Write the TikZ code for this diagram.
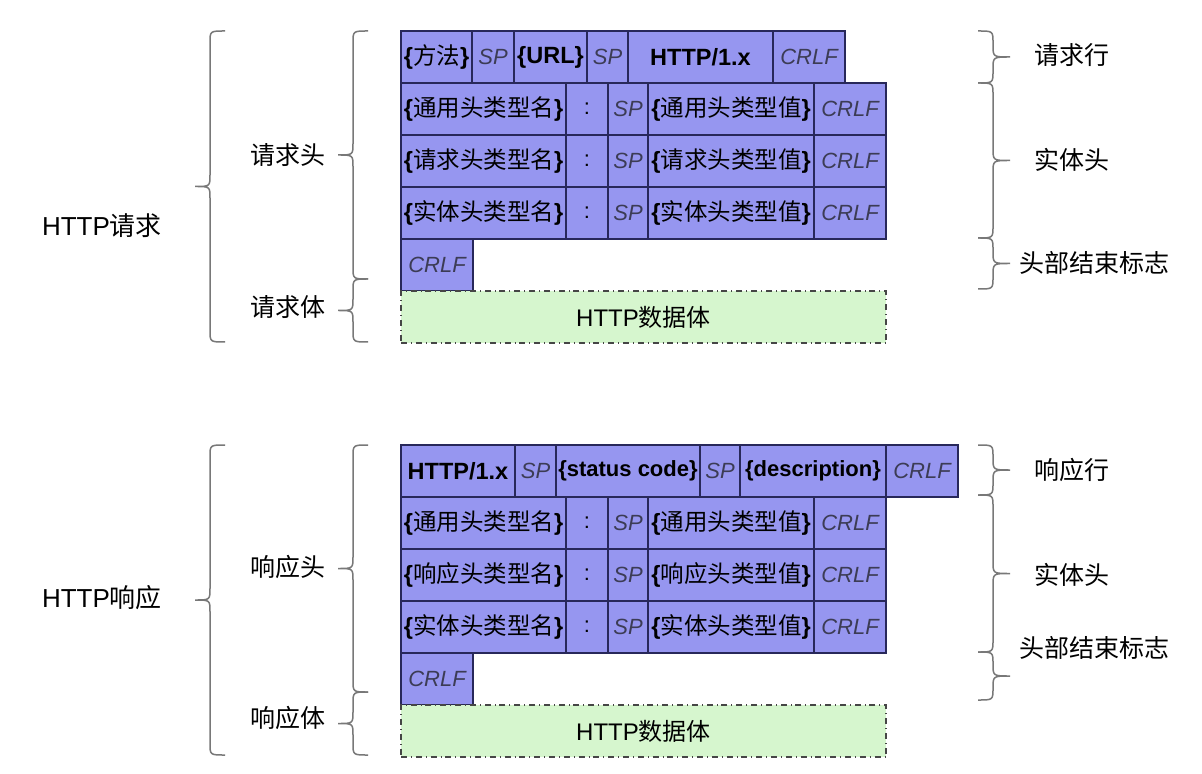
\documentclass[tikz,border=0pt]{standalone}
\usepackage{fontspec}
\setmainfont{Liberation Sans}
\newfontfamily\zhfont{Noto Sans CJK SC}
\newcommand{\zh}[1]{{\zhfont #1}}
\newcommand{\zc}[1]{{\zhfont\fontsize{11.75}{13}\selectfont #1}}
\newcommand{\bb}[1]{{\bfseries\fontsize{11.75}{13}\selectfont #1}}
\usepackage{tikz}
\usetikzlibrary{positioning, calc}

\definecolor{cellfill}{RGB}{150,150,240}
\definecolor{cellline}{RGB}{40,40,90}
\definecolor{spgray}{RGB}{60,60,85}
\definecolor{bodyfill}{RGB}{214,246,206}
\definecolor{bodyline}{RGB}{70,70,70}
\definecolor{bracegray}{RGB}{120,120,120}

\tikzset{
	cell/.style={draw=cellline, fill=cellfill, line width=0.75pt, minimum height=26pt,
		inner sep=0pt, outer sep=0pt, font=\fontsize{11}{13}\selectfont},
	sp/.style={cell, text=spgray, font=\fontsize{11}{13}\selectfont\itshape},
	bodybox/.style={draw=bodyline, fill=bodyfill, dash dot, line width=0.6pt, minimum height=26pt,
		inner sep=0pt, outer sep=0pt, font=\fontsize{12}{14}\selectfont},
	lab/.style={font=\fontsize{12.5}{15}\selectfont},
	bigLab/.style={font=\fontsize{13}{15}\selectfont},
	curlyline/.style={draw=bracegray, line width=0.75pt},
	% left brace, drawn from top to bottom
	curlyl/.style={to path={let \p1=(\tikztostart), \p2=(\tikztotarget),
		\p3=($(\tikztostart)!0.5!(\tikztotarget)$) in
		(\p1) .. controls (\x1-7.5pt,\y1) .. (\x1-7.5pt,\y1-6pt)
		-- (\x1-7.5pt,\y3+6pt) .. controls (\x1-7.5pt,\y3) .. (\x1-15pt,\y3)
		.. controls (\x1-7.5pt,\y3) .. (\x1-7.5pt,\y3-6pt)
		-- (\x1-7.5pt,\y2+6pt) .. controls (\x1-7.5pt,\y2) .. (\p2)}},
	% right brace, drawn from top to bottom
	curlyr/.style={to path={let \p1=(\tikztostart), \p2=(\tikztotarget),
		\p3=($(\tikztostart)!0.5!(\tikztotarget)$) in
		(\p1) .. controls (\x1+7.5pt,\y1) .. (\x1+7.5pt,\y1-6pt)
		-- (\x1+7.5pt,\y3+6pt) .. controls (\x1+7.5pt,\y3) .. (\x1+16pt,\y3)
		.. controls (\x1+7.5pt,\y3) .. (\x1+7.5pt,\y3-6pt)
		-- (\x1+7.5pt,\y2+6pt) .. controls (\x1+7.5pt,\y2) .. (\p2)}}
}

\begin{document}
\begin{tikzpicture}[x=0.5pt, y=-0.5pt]
	\fill[white] (0,0) rectangle (1202,774);
	\useasboundingbox (0,0) rectangle (1202,774);

	% HTTP request
	\node[cell, minimum width=35.5pt, anchor=north west] (q1-a) at (401,31) {\bb{\{}\zc{方法}\bb{\}}};
	\node[sp, minimum width=21pt, right=0pt of q1-a] (q1-b) {SP};
	\node[cell, minimum width=36.5pt, right=0pt of q1-b] (q1-c) {\bb{\{URL\}}};
	\node[sp, minimum width=20.5pt, right=0pt of q1-c] (q1-d) {SP};
	\node[cell, minimum width=72.5pt, right=0pt of q1-d] (q1-e) {\bb{HTTP/1.x}};
	\node[sp, minimum width=36pt, right=0pt of q1-e] (q1-f) {CRLF};

	\foreach \rw/\pv/\kind in {2/1/通用, 3/2/请求, 4/3/实体} {
		\node[cell, minimum width=82.5pt, anchor=north west] (q\rw-a) at (q\pv-a.south west) {\bb{\{}\zc{\kind 头类型名}\bb{\}}};
		\node[cell, minimum width=21pt, right=0pt of q\rw-a] (q\rw-b) {:};
		\node[sp, minimum width=20pt, right=0pt of q\rw-b] (q\rw-c) {SP};
		\node[cell, minimum width=83pt, right=0pt of q\rw-c] (q\rw-d) {\bb{\{}\zc{\kind 头类型值}\bb{\}}};
		\node[sp, minimum width=36pt, right=0pt of q\rw-d] (q\rw-e) {CRLF};
	}
	\node[sp, minimum width=36pt, anchor=north west] (q5) at (q4-a.south west) {CRLF};
	\node[bodybox, minimum width=242.5pt, anchor=north west] (qbody) at (q5.south west) {HTTP\zh{数据体}};

	% HTTP response
	\node[cell, minimum width=57pt, anchor=north west] (s1-a) at (401,445) {\bb{HTTP/1.x}};
	\node[sp, minimum width=20.5pt, right=0pt of s1-a] (s1-b) {SP};
	\node[cell, minimum width=72pt, right=0pt of s1-b] (s1-c) {\textbf{\{status code\}}};
	\node[sp, minimum width=20pt, right=0pt of s1-c] (s1-d) {SP};
	\node[cell, minimum width=73pt, right=0pt of s1-d] (s1-e) {\textbf{\{description\}}};
	\node[sp, minimum width=36pt, right=0pt of s1-e] (s1-f) {CRLF};

	\foreach \rw/\pv/\kind in {2/1/通用, 3/2/响应, 4/3/实体} {
		\node[cell, minimum width=82.5pt, anchor=north west] (s\rw-a) at (s\pv-a.south west) {\bb{\{}\zc{\kind 头类型名}\bb{\}}};
		\node[cell, minimum width=21pt, right=0pt of s\rw-a] (s\rw-b) {:};
		\node[sp, minimum width=20pt, right=0pt of s\rw-b] (s\rw-c) {SP};
		\node[cell, minimum width=83pt, right=0pt of s\rw-c] (s\rw-d) {\bb{\{}\zc{\kind 头类型值}\bb{\}}};
		\node[sp, minimum width=36pt, right=0pt of s\rw-d] (s\rw-e) {CRLF};
	}
	\node[sp, minimum width=36pt, anchor=north west] (s5) at (s4-a.south west) {CRLF};
	\node[bodybox, minimum width=242.5pt, anchor=north west] (sbody) at (s5.south west) {HTTP\zh{数据体}};

	% labels
	\node[bigLab] (reqLab) at (102,226) {HTTP\zh{请求}};
	\node[lab] (reqHead) at (288,155) {\zh{请求头}};
	\node[lab] (reqBody) at (288,307) {\zh{请求体}};
	\node[lab] (reqLine) at (1072,55) {\zh{请求行}};
	\node[lab] (reqEnt) at (1072,160) {\zh{实体头}};
	\node[lab] (reqEnd) at (1094,263) {\zh{头部结束标志}};

	\node[bigLab] (resLab) at (102,598) {HTTP\zh{响应}};
	\node[lab] (resHead) at (288,567) {\zh{响应头}};
	\node[lab] (resBody) at (288,718) {\zh{响应体}};
	\node[lab] (resLine) at (1072,470) {\zh{响应行}};
	\node[lab] (resEnt) at (1072,575) {\zh{实体头}};
	\node[lab] (resEnd) at (1094,648) {\zh{头部结束标志}};

	% braces
	\draw[curlyline] (225,31) to[curlyl] (225,342);
	\draw[curlyline] (368,31) to[curlyl] (368,279);
	\draw[curlyline] (368,279) to[curlyl] (368,342);
	\draw[curlyline] (978,31) to[curlyr] (978,83);
	\draw[curlyline] (978,83) to[curlyr] (978,238);
	\draw[curlyline] (978,238) to[curlyr] (978,289);

	\draw[curlyline] (225,445) to[curlyl] (225,755);
	\draw[curlyline] (368,445) to[curlyl] (368,692);
	\draw[curlyline] (368,692) to[curlyl] (368,755);
	\draw[curlyline] (978,445) to[curlyr] (978,495);
	\draw[curlyline] (978,495) to[curlyr] (978,652);
	\draw[curlyline] (978,652) to[curlyr] (978,700);
\end{tikzpicture}
\end{document}
